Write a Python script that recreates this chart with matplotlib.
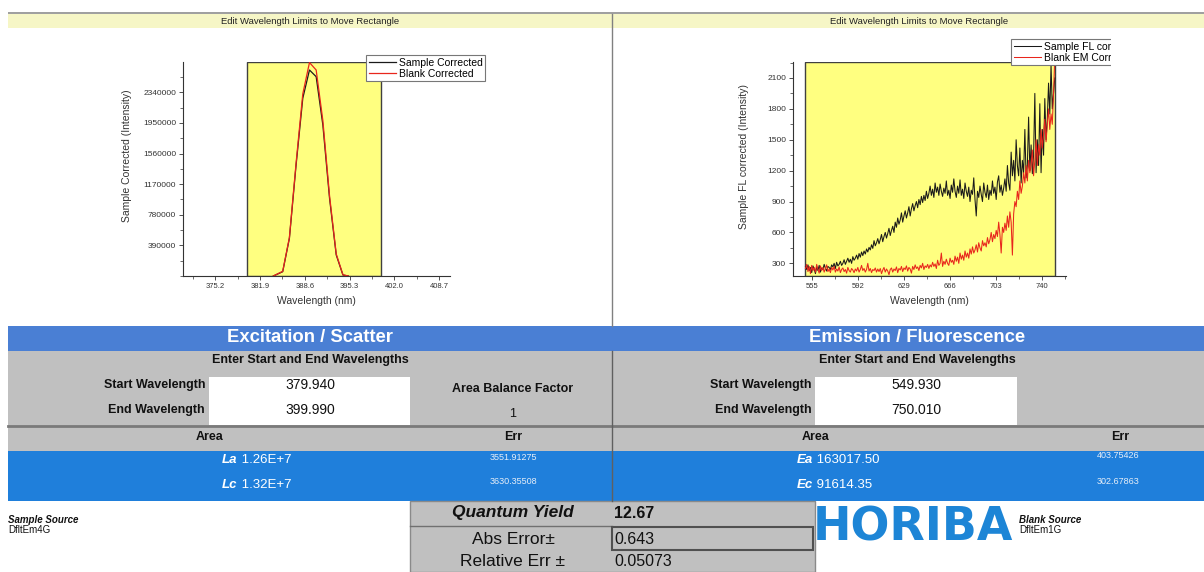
import numpy as np
import matplotlib.pyplot as plt
from matplotlib.patches import Rectangle
from matplotlib.ticker import FixedLocator, MultipleLocator, FormatStrFormatter

W, H = 1204, 572
plt.rcParams['font.family'] = ['Liberation Sans', 'DejaVu Sans']

# excitation / scatter peak
ex_wl = [383.9, 385.3, 386.3, 387.3, 388.3, 389.3, 390.3, 391.3, 392.3, 393.3, 394.3, 395.1]
ex_sample = [0, 55e3, 480e3, 1415e3, 2265e3, 2625e3, 2540e3, 1925e3, 990e3, 268e3, 13e3, 0]
ex_blank = [0, 60e3, 490e3, 1440e3, 2320e3, 2720e3, 2625e3, 1980e3, 1020e3, 280e3, 15e3, 0]

# emission / fluorescence, 1 nm steps 550..750
em_wl = np.arange(550, 751)
em_sample = [
    270, 240, 285, 230, 260, 210, 275, 245, 200, 265,
    230, 280, 215, 255, 240, 290, 250, 225, 270, 260,
    240, 285, 265, 300, 250, 310, 275, 290, 320, 280,
    300, 335, 290, 320, 350, 310, 340, 300, 365, 330,
    350, 380, 340, 395, 360, 410, 375, 420, 390, 440,
    410, 455, 430, 480, 445, 520, 470, 500, 540, 490,
    530, 580, 510, 560, 600, 545, 590, 640, 570, 620,
    660, 600, 700, 650, 740, 680, 720, 790, 700, 760,
    810, 740, 790, 850, 760, 830, 880, 810, 860, 900,
    840, 920, 870, 950, 890, 960, 910, 1000, 930, 980,
    1050, 960, 1020, 940, 1080, 990, 1040, 960, 1070, 1000,
    950, 1030, 980, 1100, 960, 1010, 930, 1060, 990, 1120,
    1000, 940, 1050, 980, 1110, 960, 1020, 930, 1080, 1000,
    950, 1040, 900, 1010, 970, 1130, 920, 760, 1000, 940,
    1050, 970, 900, 1080, 990, 940, 1060, 920, 1010, 960,
    1100, 980, 1040, 920, 1090, 1150, 990, 1060, 960, 1030,
    1120, 1000, 1250, 1080, 1010, 1380, 1150, 1300, 1100, 1500,
    1250, 1150, 1420, 1080, 1300, 1180, 1600, 1130, 1250, 1720,
    1200, 1450, 1170, 1350, 1950, 1180, 1500, 1250, 1850, 1180,
    1600, 1350, 1900, 1500, 1700, 2050, 1750, 2230, 1800, 1950,
    2100,
]
em_blank = [
    250, 290, 220, 270, 200, 280, 230, 260, 215, 290,
    240, 205, 275, 230, 260, 215, 250, 285, 220, 245,
    210, 260, 235, 270, 215, 245, 225, 265, 210, 240,
    255, 220, 240, 205, 260, 230, 215, 250, 235, 210,
    245, 225, 260, 215, 240, 280, 230, 250, 215, 240,
    300, 225, 250, 210, 240, 230, 255, 215, 245, 220,
    250, 200, 235, 260, 215, 245, 225, 190, 240, 255,
    215, 245, 230, 265, 210, 250, 235, 270, 220, 255,
    240, 275, 225, 260, 245, 205, 270, 240, 285, 250,
    265, 230, 280, 255, 300, 240, 275, 260, 290, 250,
    285, 265, 310, 270, 295, 250, 330, 280, 300, 400,
    270, 320, 290, 340, 300, 280, 350, 310, 330, 290,
    370, 320, 360, 300, 400, 340, 380, 330, 420, 360,
    400, 350, 440, 390, 460, 400, 430, 480, 410, 500,
    450, 420, 520, 470, 500, 460, 550, 490, 530, 600,
    510, 580, 540, 620, 560, 700, 580, 400, 650, 600,
    690, 620, 760, 650, 800, 700, 380, 780, 900, 850,
    1000, 920, 1100, 980, 1050, 1180, 1080, 1250, 1100, 1300,
    1180, 1250, 1400, 1150, 1300, 1500, 1250, 1450, 1350, 1600,
    1420, 1550, 1700, 1480, 1650, 1800, 1600, 1750, 1650, 1950,
    2300,
]

ex_xticks = [375.2, 381.9, 388.6, 395.3, 402.0, 408.7]
ex_yticks = [390000, 780000, 1170000, 1560000, 1950000, 2340000]
em_xticks = [555, 592, 629, 666, 703, 740]
em_yticks = [300, 600, 900, 1200, 1500, 1800, 2100]

# results table
ex_start, ex_end = 379.940, 399.990
em_start, em_end = 549.930, 750.010
area_balance = 1
La, Lc = 1.26e7, 1.32e7
La_err, Lc_err = 3551.91275, 3630.35508
Ea, Ec = 163017.50, 91614.35
Ea_err, Ec_err = 403.75426, 302.67863
qy, abs_err, rel_err = 12.67, 0.643, 0.05073
sample_source, blank_source = 'DfltEm4G', 'DfltEm1G'

YELLOW = '#ffff80'
HEAD_BLUE = '#4a7fd4'
ROW_BLUE = '#1f7fdb'
GREY = '#c0c0c0'


def sci(v):
    m, e = f'{v:.2E}'.split('E')
    return f'{m}E+{int(e)}'


def px_axes(l, t, r, b, **kw):
    return fig.add_axes([l / W, 1 - b / H, (r - l) / W, (b - t) / H], **kw)


def box(x0, y0, x1, y1, fc, ec='none', lw=0, z=1):
    bg.add_patch(Rectangle((x0, y0), x1 - x0, y1 - y0, facecolor=fc,
                           edgecolor=ec, linewidth=lw, zorder=z))


fig = plt.figure(figsize=(W / 100, H / 100), dpi=100)
bg = px_axes(0, 0, W, H)
bg.set_xlim(0, W)
bg.set_ylim(H, 0)
bg.axis('off')

# header strip and panel divider
box(8, 12, W, 14, '#a0a0a0')
box(8, 14, W, 28, '#f6f6c6')
bg.plot([612, 612], [14, 326], color='#808080', lw=1)
for cx in (310, 919):
    bg.text(cx, 21, 'Edit Wavelength Limits to Move Rectangle', fontsize=6.8,
            ha='center', va='center', color='#222222')


def style_axes(ax):
    for s in ('top', 'right'):
        ax.spines[s].set_visible(False)
    for s in ('left', 'bottom'):
        ax.spines[s].set_linewidth(0.8)
        ax.spines[s].set_color('#333333')
    ax.tick_params(which='major', direction='out', length=3, width=0.6,
                   labelsize=5.5, pad=2, colors='#333333')
    ax.tick_params(axis='y', which='major', labelsize=6)
    ax.tick_params(which='minor', direction='out', length=2, width=0.5, colors='#333333')
    ax.set_xlabel('Wavelength (nm)', fontsize=7.5, color='#333333')
    ax.xaxis.set_label_coords(0.5, -0.095)
    ax.set_facecolor('none')


def small_legend(ax, x, y, hl):
    leg = ax.legend(loc='upper left', bbox_to_anchor=(x / W, 1 - y / H),
                    bbox_transform=fig.transFigure, fontsize=7.5, frameon=True,
                    fancybox=False, framealpha=1, edgecolor='#777777',
                    borderpad=0.25, labelspacing=0.1, handlelength=hl,
                    handletextpad=0.3, borderaxespad=0)
    leg.get_frame().set_linewidth(0.8)


# excitation plot
ax1 = px_axes(183, 62, 450, 276)
ax1.axvspan(ex_start, ex_end, facecolor=YELLOW, edgecolor='#404040', lw=1, zorder=0)
ax1.plot(ex_wl, ex_sample, color='#1a1a1a', lw=0.9, label='Sample Corrected')
ax1.plot(ex_wl, ex_blank, color='#e8261c', lw=0.9, label='Blank Corrected')
ax1.set_xlim(370.4, 410.3)
ax1.set_ylim(0, 2.727e6)
ax1.xaxis.set_major_locator(FixedLocator(ex_xticks))
ax1.xaxis.set_major_formatter(FormatStrFormatter('%.1f'))
ax1.xaxis.set_minor_locator(MultipleLocator(3.35))
ax1.yaxis.set_major_locator(FixedLocator(ex_yticks))
ax1.yaxis.set_minor_locator(MultipleLocator(195000))
ax1.yaxis.set_major_formatter(FormatStrFormatter('%d'))
style_axes(ax1)
ax1.set_ylabel('Sample Corrected (Intensity)', fontsize=7.5, color='#333333')
ax1.yaxis.set_label_coords(-0.19, 0.56)
small_legend(ax1, 366, 55, 2.6)

# emission plot
ax2 = px_axes(793, 62, 1066, 276)
ax2.axvspan(em_start, em_end, facecolor=YELLOW, edgecolor='#404040', lw=1, zorder=0)
ax2.plot(em_wl, em_sample, color='#1a1a1a', lw=0.75, label='Sample FL corrected')
ax2.plot(em_wl, em_blank, color='#e8261c', lw=0.75, label='Blank EM Corrected')
ax2.set_xlim(540.0, 759.0)
ax2.set_ylim(177, 2255)
ax2.xaxis.set_major_locator(FixedLocator(em_xticks))
ax2.xaxis.set_minor_locator(MultipleLocator(18.5))
ax2.yaxis.set_major_locator(FixedLocator(em_yticks))
ax2.yaxis.set_minor_locator(MultipleLocator(150))
style_axes(ax2)
ax2.set_ylabel('Sample FL corrected (Intensity)', fontsize=7.5, color='#333333')
ax2.yaxis.set_label_coords(-0.16, 0.56)
small_legend(ax2, 1011, 39, 2.6)

# the emission legend runs off the panel edge
cover = px_axes(0, 0, W, H, zorder=10)
cover.set_xlim(0, W)
cover.set_ylim(H, 0)
cover.axis('off')
cover.add_patch(Rectangle((1111, 32), 93, 40, facecolor='white', edgecolor='none'))

# results table
box(8, 326, W, 351, HEAD_BLUE)
box(8, 351, W, 451, GREY)
box(209, 377, 410, 425, 'white', z=2)
box(815, 377, 1017, 425, 'white', z=2)
bg.plot([8, W], [425.5, 425.5], color='#7a7a7a', lw=2, zorder=3)
box(8, 451, W, 501, ROW_BLUE)
bg.plot([611.5, 611.5], [351, 501], color='#606060', lw=1, zorder=3)

bold = dict(weight='bold', ha='center', va='center', color='#111111', fontsize=9)
plain = dict(ha='center', va='center', color='#111111', fontsize=10)
for cx, title in ((310, 'Excitation / Scatter'), (917, 'Emission / Fluorescence')):
    bg.text(cx, 338, title, weight='bold', fontsize=13.3, color='white',
            ha='center', va='center')
    bg.text(cx, 360, 'Enter Start and End Wavelengths', **bold)

for rx, cx, v0, v1 in ((205, 310, ex_start, ex_end), (812, 916, em_start, em_end)):
    bg.text(rx, 385, 'Start Wavelength', **{**bold, 'ha': 'right'})
    bg.text(rx, 410, 'End Wavelength', **{**bold, 'ha': 'right'})
    bg.text(cx, 385, f'{v0:.3f}', zorder=4, **plain)
    bg.text(cx, 410, f'{v1:.3f}', zorder=4, **plain)

bg.text(513, 389, 'Area Balance Factor', **bold)
bg.text(513, 414, f'{area_balance}', **{**plain, 'fontsize': 9})

for ax_x, err_x in ((210, 513), (816, 1120)):
    bg.text(ax_x, 437, 'Area', zorder=4, **bold)
    bg.text(err_x, 437, 'Err', zorder=4, **bold)

rows = [
    (222, 460, 'La', sci(La), 513, 457, La_err),
    (222, 485, 'Lc', sci(Lc), 513, 482, Lc_err),
    (797, 460, 'Ea', f'{Ea:.2f}', 1118, 456, Ea_err),
    (797, 485, 'Ec', f'{Ec:.2f}', 1118, 482, Ec_err),
]
for x, y, name, val, ex, ey, err in rows:
    t = bg.text(x, y, name, weight='bold', style='italic', fontsize=9.5,
                color='white', ha='left', va='center')
    bg.annotate(' ' + val, xy=(1, 0), xycoords=t, ha='left', va='bottom',
                fontsize=9.5, color='white')
    bg.text(ex, ey, f'{err:.5f}', fontsize=6.5, color='#e6eef8',
            ha='center', va='center')

# sources
for x, title, src in ((8, 'Sample Source', sample_source), (1019, 'Blank Source', blank_source)):
    bg.text(x, 520, title, weight='bold', style='italic', fontsize=7,
            ha='left', va='center', color='#111111')
    bg.text(x, 530, src, fontsize=7, ha='left', va='center', color='#111111')

# quantum yield block
box(410, 501, 815, 572, GREY, ec='#8a8a8a', lw=1)
bg.plot([410, 612], [526, 526], color='#707070', lw=1, zorder=3)
box(612, 527, 813, 550, 'none', ec='#505050', lw=1.5, z=3)
bg.text(513, 513, 'Quantum Yield', weight='bold', style='italic', fontsize=12.5,
        ha='center', va='center', color='#111111')
bg.text(513, 539, 'Abs Error±', fontsize=12.5, ha='center', va='center', color='#111111')
bg.text(513, 562, 'Relative Err ±', fontsize=12.5, ha='center', va='center', color='#111111')
bg.text(614, 513, f'{qy:.2f}', weight='bold', fontsize=11.5, ha='left', va='center',
        color='#111111')
bg.text(614, 539, f'{abs_err:.3f}', fontsize=11.5, ha='left', va='center', color='#111111')
bg.text(614, 562, f'{rel_err:.5f}', fontsize=11.5, ha='left', va='center', color='#111111')

bg.text(813, 528, 'HORIBA', family='DejaVu Sans', weight='bold', fontsize=33,
        color='#1d85d6', ha='left', va='center')

fig.savefig('out.png', dpi=100)
